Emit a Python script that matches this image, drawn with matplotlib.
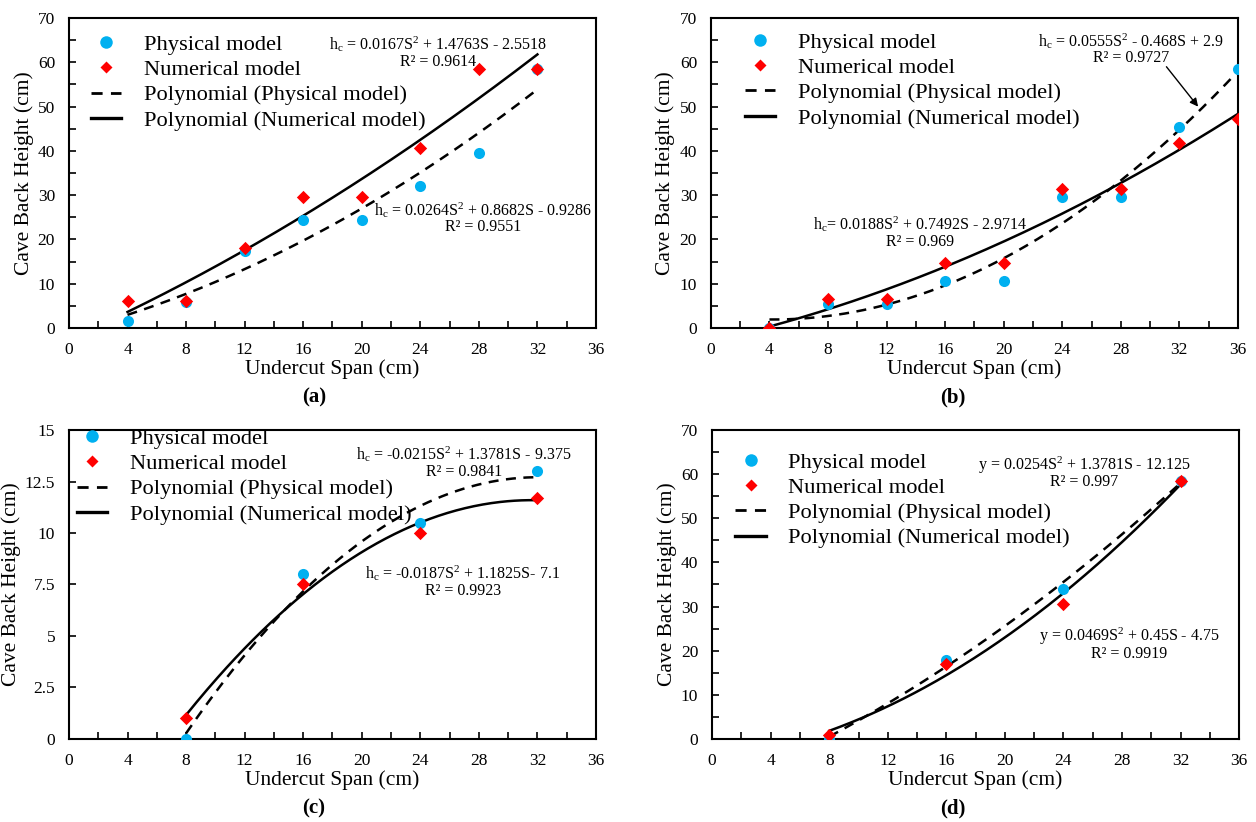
import numpy as np
from matplotlib import pyplot as plt
from matplotlib.lines import Line2D
from matplotlib.ticker import MultipleLocator

plt.rcParams['font.family'] = ['Liberation Serif', 'DejaVu Serif']
plt.rcParams['mathtext.fontset'] = 'custom'
plt.rcParams['mathtext.rm'] = 'Liberation Serif'
plt.rcParams['mathtext.it'] = 'Liberation Serif:italic'

PHYS_COLOR = '#00B0F0'
NUM_COLOR = '#FF0000'

# (a)
span_a = [4, 8, 12, 16, 20, 24, 28, 32]
phys_a = [1.5, 5.8, 17.3, 24.5, 24.5, 32.0, 39.5, 58.5]
num_a = [6.2, 6.2, 18.0, 29.5, 29.5, 40.7, 58.5, 58.5]
fit_phys_a = [0.0264, 0.8682, -0.9286]
fit_num_a = [0.0167, 1.4763, -2.5518]
eq_phys_a = [r'h$_\mathrm{c}$ = 0.0264S$^\mathrm{2}$ + 0.8682S - 0.9286', 'R² = 0.9551']
eq_num_a = [r'h$_\mathrm{c}$ = 0.0167S$^\mathrm{2}$ + 1.4763S - 2.5518', 'R² = 0.9614']

# (b)
span_b = [4, 8, 12, 16, 20, 24, 28, 32, 36]
phys_b = [0.0, 5.5, 5.5, 10.5, 10.5, 29.5, 29.5, 45.3, 58.5]
num_b = [0.0, 6.5, 6.5, 14.7, 14.7, 31.3, 31.3, 41.8, 47.2]
fit_phys_b = [0.0555, -0.468, 2.9]
fit_num_b = [0.0188, 0.7492, -2.9714]
eq_phys_b = [r'h$_\mathrm{c}$ = 0.0555S$^\mathrm{2}$ - 0.468S + 2.9', 'R² = 0.9727']
eq_num_b = [r'h$_\mathrm{c}$= 0.0188S$^\mathrm{2}$ + 0.7492S - 2.9714', 'R² = 0.969']

# (c)
span_c = [8, 16, 24, 32]
phys_c = [0.0, 8.0, 10.5, 13.0]
num_c = [1.0, 7.5, 10.0, 11.7]
fit_phys_c = [-0.0215, 1.3781, -9.375]
fit_num_c = [-0.0187, 1.1825, -7.1]
eq_phys_c = [r'h$_\mathrm{c}$ = -0.0215S$^\mathrm{2}$ + 1.3781S - 9.375', 'R² = 0.9841']
eq_num_c = [r'h$_\mathrm{c}$ = -0.0187S$^\mathrm{2}$ + 1.1825S- 7.1', 'R² = 0.9923']

# (d)
span_d = [8, 16, 24, 32]
phys_d = [0.0, 18.0, 34.0, 58.5]
num_d = [1.0, 17.0, 30.5, 58.5]
fit_phys_d = [0.0254, 1.3781, -12.125]
fit_num_d = [0.0469, 0.45, -4.75]
eq_phys_d = [r'y = 0.0254S$^\mathrm{2}$ + 1.3781S - 12.125', 'R² = 0.997']
eq_num_d = [r'y = 0.0469S$^\mathrm{2}$ + 0.45S - 4.75', 'R² = 0.9919']

legend_labels = ['Physical model', 'Numerical model',
	'Polynomial (Physical model)', 'Polynomial (Numerical model)']


def poly_curve(coef, x0, x1):
	s = np.linspace(x0, x1, 200)
	return s, np.polyval(coef, s)


def draw_panel(ax, span, phys, num, fit_phys, fit_num, ymax, ystep, yminor,
		eq_phys, eq_num, pos_phys, pos_num, leg_anchor, ylabels=None):
	s, h = poly_curve(fit_phys, span[0], span[-1])
	ax.plot(s, h, color='black', lw=1.8, ls=(0, (4, 3)), zorder=2)
	s, h = poly_curve(fit_num, span[0], span[-1])
	ax.plot(s, h, color='black', lw=1.8, zorder=2)
	ax.scatter(span, phys, s=64, color=PHYS_COLOR, marker='o', zorder=3, linewidths=0)
	ax.scatter(span, num, s=46, color=NUM_COLOR, marker='D', zorder=4, linewidths=0)

	ax.set_xlim(0, 36)
	ax.set_ylim(0, ymax)
	ax.xaxis.set_major_locator(MultipleLocator(4))
	ax.xaxis.set_minor_locator(MultipleLocator(2))
	ax.yaxis.set_major_locator(MultipleLocator(ystep))
	if yminor:
		ax.yaxis.set_minor_locator(MultipleLocator(yminor))
	if ylabels is not None:
		ax.set_yticks(np.arange(0, ymax + ystep / 2, ystep))
		ax.set_yticklabels(ylabels)
	ax.tick_params(which='both', direction='in', length=5, width=1.2,
		top=False, right=False, labelsize=12.5, colors='black')
	ax.tick_params(axis='x', pad=10)
	ax.tick_params(axis='y', pad=10)
	for sp in ax.spines.values():
		sp.set_linewidth(1.5)

	ax.set_xlabel('Undercut Span (cm)', fontsize=15.5, labelpad=1)
	ax.set_ylabel('Cave Back Height (cm)', fontsize=15.5, labelpad=3)

	for (x, y), lines in ((pos_phys, eq_phys), (pos_num, eq_num)):
		ax.text(x, y, lines[0], fontsize=11.5, ha='center', va='center')
		ax.text(x, y - ymax * 0.057, lines[1], fontsize=11.5, ha='center', va='center')

	handles = [
		Line2D([], [], ls='none', marker='o', ms=9, color=PHYS_COLOR, mec='none'),
		Line2D([], [], ls='none', marker='D', ms=6.5, color=NUM_COLOR, mec='none'),
		Line2D([], [], color='black', lw=2.0, ls=(0, (4, 3))),
		Line2D([], [], color='black', lw=2.4),
	]
	ax.legend(handles, legend_labels, loc='upper left', bbox_to_anchor=leg_anchor,
		frameon=False, fontsize=16.2, handlelength=1.35, handletextpad=1.0,
		labelspacing=0.2, borderpad=0, borderaxespad=0)


fig = plt.figure(figsize=(12.56, 8.22), dpi=100)
w, h = 0.4196, 0.377
ax_a = fig.add_axes([0.0549, 0.601, w, h])
ax_b = fig.add_axes([0.566, 0.601, w, h])
ax_c = fig.add_axes([0.0549, 0.101, w, h * 0.997])
ax_d = fig.add_axes([0.567, 0.101, w, h * 0.997])

draw_panel(ax_a, span_a, phys_a, num_a, fit_phys_a, fit_num_a, 70, 10, 5,
	eq_phys_a, eq_num_a, (28.3, 26.7), (25.2, 64.1), (0.042, 0.948))
draw_panel(ax_b, span_b, phys_b, num_b, fit_phys_b, fit_num_b, 70, 10, 5,
	eq_phys_b, eq_num_b, (28.7, 64.9), (14.3, 23.4), (0.064, 0.955))
draw_panel(ax_c, span_c, phys_c, num_c, fit_phys_c, fit_num_c, 15, 2.5, None,
	eq_phys_c, eq_num_c, (27.0, 13.84), (26.9, 8.03), (0.015, 1.006),
	ylabels=['0', '2.5', '5', '7.5', '10', '12.5', '15'])
draw_panel(ax_d, span_d, phys_d, num_d, fit_phys_d, fit_num_d, 70, 10, 5,
	eq_phys_d, eq_num_d, (25.4, 62.1), (28.5, 23.2), (0.044, 0.929))

# arrow from the upper equation in (b) to its dashed curve
ax_b.annotate('', xy=(33.4, 49.5), xytext=(31.0, 59.5),
	arrowprops=dict(arrowstyle='-|>', color='black', lw=1.0, mutation_scale=12))

for x, y, tag in ((314, 397, '(a)'), (953, 397, '(b)'), (314, 808, '(c)'), (953, 808, '(d)')):
	fig.text(x / 1256, 1 - y / 822, tag, fontsize=15, fontweight='bold',
		ha='center', va='center')

fig.savefig('out.png', dpi=100)
